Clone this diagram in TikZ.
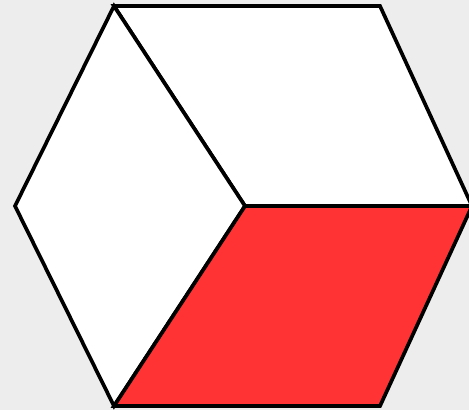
\documentclass[tikz,border=0pt]{standalone}
\usepackage{tikz}
\usetikzlibrary{calc}

\definecolor{facered}{HTML}{FF3333}
\definecolor{bggray}{HTML}{EDEDED}

\begin{document}
\begin{tikzpicture}[
  x=0.02cm, y=-0.02cm,
  edge/.style={draw=black, line width=2.1pt, line join=miter},
  face/.style={edge, fill=white},
  redface/.style={edge, fill=facered},
]
% background
\fill[bggray] (0,0) rectangle (469,410);
\useasboundingbox (0,0) rectangle (469,410);

\coordinate (tl) at (114,6);
\coordinate (tr) at (380,6);
\coordinate (r)  at (472,206);
\coordinate (br) at (380,406);
\coordinate (bl) at (114,406);
\coordinate (l)  at (15,206);
\coordinate (c)  at (245,206);

\path[face]    (tl) -- (tr) -- (r) -- (c) -- cycle;
\path[face]    (tl) -- (c) -- (bl) -- (l) -- cycle;
\path[redface] (c) -- (r) -- (br) -- (bl) -- cycle;
\end{tikzpicture}
\end{document}
